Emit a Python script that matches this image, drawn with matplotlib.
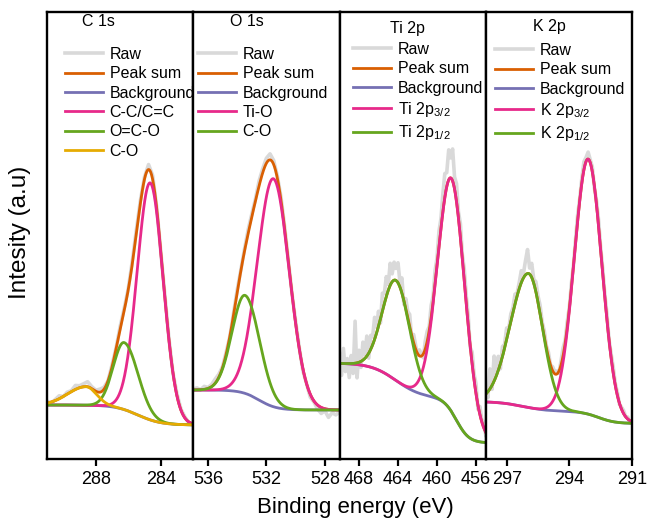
"""XPS high-resolution spectra (C 1s, O 1s, Ti 2p, K 2p) with peak fitting."""
import matplotlib
matplotlib.use("Agg")
import matplotlib.pyplot as plt
import numpy as np

plt.rcParams["font.family"] = ["Liberation Sans", "DejaVu Sans"]
plt.rcParams["mathtext.fontset"] = "custom"
plt.rcParams["mathtext.rm"] = "Liberation Sans"
plt.rcParams["mathtext.it"] = "Liberation Sans:italic"

COLORS = {
    "raw": "#d9d9d9",
    "sum": "#d95f02",
    "bg": "#7570b3",
    "p1": "#e7298a",
    "p2": "#66a61e",
    "p3": "#e6ab02",
}

# ---------------------------------------------------------------------------
# Data (intensity in arbitrary units)
# ---------------------------------------------------------------------------
# C 1s
c_xlim = (291, 282)
c_ticks = [288, 284]
c_names = ["C-C/C=C", "O=C-O", "C-O"]
c_centers = [284.65, 286.25, 288.6]
c_heights = [237, 67, 18.5]
c_sig_hi = [0.80, 0.67, 1.12]
c_sig_lo = [0.80, 0.86, 0.65]
c_bg_base = 35
c_bg_steps = [(285.4, 20, 0.7)]
c_raw_resid = [2, -1, 1, 3, 0, 2, 1, 4, 2, 3, 5, 2, 1, 3, 2, 0, 2, 1, 3, 2,
               1, 3, 4, 3, 2, 5, 4, 1, -1, 2, 1, 0, 2, 1, 1, -1, 0]

# O 1s
o_xlim = (537, 527)
o_ticks = [536, 532, 528]
o_names = ["Ti-O", "C-O"]
o_centers = [531.52, 533.46]
o_heights = [228, 98]
o_sig_hi = [1.09, 0.88]
o_sig_lo = [1.09, 1.00]
o_bg_base = 50
o_bg_steps = [(532.5, 20, 0.6)]
o_raw_resid = [1, 2, 0, 3, 1, 2, 4, 3, 1, 2, 0, 2, 3, 1, 2, 4, 3, 2, 5, 4,
               5, 6, 4, 2, 3, 2, 1, 0, 2, 1, -2, 0, -3, -1, -4, -6, -2, -8,
               -3, -5, -2]

# Ti 2p
ti_xlim = (470, 455)
ti_ticks = [468, 464, 460, 456]
ti_names = [r"Ti 2p$_{\mathregular{3/2}}$", r"Ti 2p$_{\mathregular{1/2}}$"]
ti_centers = [458.5, 464.2]
ti_heights = [233, 100]
ti_sig_hi = [1.40, 1.40]
ti_sig_lo = [1.40, 1.40]
ti_bg_base = 17
ti_bg_steps = [(458.0, 45, 0.65), (464.2, 35, 1.3)]
ti_raw_resid = [10, -12, 15, -8, 5, -14, 8, -10, 42, -15, 12, -6, 18, 4, 20,
                -5, 14, 8, 22, 6, 15, -4, 18, 10, 20, 6, 22, 8, 18, 12, 20, 5,
                15, -4, 10, 6, 12, -3, 8, 4, -2, 6, 2, -4, 8, 10, 4, 12, 6, 14,
                8, 16, 10, 18, 24, 14, 30, 20, 32, 12, 18, 6, 14, 4, 12, 8, 10,
                -2, 12, 6, 10, -4, 8, 2, 6, -3]

# K 2p
k_xlim = (298, 291)
k_ticks = [297, 294, 291]
k_names = [r"K 2p$_{\mathregular{3/2}}$", r"K 2p$_{\mathregular{1/2}}$"]
k_centers = [293.1, 295.95]
k_heights = [255, 134]
k_sig_hi = [0.66, 0.86]
k_sig_lo = [0.66, 0.67]
k_bg_base = 36.5
k_bg_steps = [(292.6, 12, 0.4), (296.2, 10, 0.6)]
k_raw_resid = [8, -6, 20, -4, 25, 2, 14, -5, 10, 4, 12, 2, 8, 5, 10, 3, 6, 12,
               4, 14, 24, 6, 14, 4, 10, 6, 8, 3, 6, 2, 5, 0, 4, 2, 3, -2, 4, 8,
               3, 6, 2, 5, 1, 4, 6, 2, 5, 8, 4, 7, 3, 5, -2, 4, 6, 2, 5, 3, 6,
               0, 4, 6, 2, 3, -1, 2, 3, 0, 2, -2, 1]

# title / legend anchor positions in figure pixels
PANELS = [
    dict(title="C 1s", xlim=c_xlim, ticks=c_ticks, names=c_names,
         centers=c_centers, heights=c_heights, sig_hi=c_sig_hi,
         sig_lo=c_sig_lo, bg_base=c_bg_base, bg_steps=c_bg_steps,
         resid=c_raw_resid, title_xy=(82, 22), leg_xy=(65, 47)),
    dict(title="O 1s", xlim=o_xlim, ticks=o_ticks, names=o_names,
         centers=o_centers, heights=o_heights, sig_hi=o_sig_hi,
         sig_lo=o_sig_lo, bg_base=o_bg_base, bg_steps=o_bg_steps,
         resid=o_raw_resid, title_xy=(230, 22), leg_xy=(198, 47)),
    dict(title="Ti 2p", xlim=ti_xlim, ticks=ti_ticks, names=ti_names,
         centers=ti_centers, heights=ti_heights, sig_hi=ti_sig_hi,
         sig_lo=ti_sig_lo, bg_base=ti_bg_base, bg_steps=ti_bg_steps,
         resid=ti_raw_resid, title_xy=(390, 28), leg_xy=(353, 42)),
    dict(title="K 2p", xlim=k_xlim, ticks=k_ticks, names=k_names,
         centers=k_centers, heights=k_heights, sig_hi=k_sig_hi,
         sig_lo=k_sig_lo, bg_base=k_bg_base, bg_steps=k_bg_steps,
         resid=k_raw_resid, title_xy=(533, 27), leg_xy=(495, 43)),
]

W, H = 647, 523
AX_LEFT, AX_RIGHT, AX_TOP, AX_BOTTOM = 47, 632, 11.5, 459
YLIM = (1, 448.5)


def peak(x, center, height, sig_hi, sig_lo):
    s = np.where(x >= center, sig_hi, sig_lo)
    return height * np.exp(-0.5 * ((x - center) / s) ** 2)


def background(x, base, steps):
    y = np.full_like(x, base, dtype=float)
    for c, h, w in steps:
        y += h / (1.0 + np.exp(-(x - c) / w))
    return y


def fit_parts(x, p):
    bg = background(x, p["bg_base"], p["bg_steps"])
    comps = [peak(x, c, h, sh, sl) for c, h, sh, sl in
             zip(p["centers"], p["heights"], p["sig_hi"], p["sig_lo"])]
    return bg, comps


def draw_panel(fig, ax, p):
    hi, lo = p["xlim"]
    x = np.linspace(lo, hi, 800)
    bg, comps = fit_parts(x, p)
    total = bg + np.sum(comps, axis=0)

    raw_x = np.linspace(hi, lo, len(p["resid"]))
    rbg, rcomps = fit_parts(raw_x, p)
    raw_y = rbg + np.sum(rcomps, axis=0) + np.array(p["resid"])

    ax.plot(raw_x, raw_y, color=COLORS["raw"], lw=2.6, label="Raw")
    ax.plot(x, total, color=COLORS["sum"], lw=2.0, label="Peak sum")
    ax.plot(x, bg, color=COLORS["bg"], lw=2.0, label="Background")
    for comp, name, key in zip(comps, p["names"], ["p1", "p2", "p3"]):
        ax.plot(x, bg + comp, color=COLORS[key], lw=2.0, label=name)

    ax.set_xlim(hi, lo)
    ax.set_ylim(*YLIM)
    ax.set_xticks(p["ticks"])
    ax.set_yticks([])
    ax.tick_params(axis="x", direction="out", length=5, width=1.6,
                   labelsize=13, pad=4)
    for sp in ax.spines.values():
        sp.set_linewidth(1.7)

    fig.text(p["title_xy"][0] / W, 1 - p["title_xy"][1] / H, p["title"],
             fontsize=11.5, ha="left", va="center")
    ax.legend(loc="upper left",
              bbox_to_anchor=(p["leg_xy"][0] / W, 1 - p["leg_xy"][1] / H),
              bbox_transform=fig.transFigure, frameon=False, fontsize=11.5,
              borderpad=0, borderaxespad=0, handlelength=2.4,
              handletextpad=0.4, labelspacing=0.27)


def main():
    fig = plt.figure(figsize=(W / 100, H / 100), dpi=100)
    pw = (AX_RIGHT - AX_LEFT) / len(PANELS)
    for i, p in enumerate(PANELS):
        left = AX_LEFT + i * pw
        ax = fig.add_axes([left / W, 1 - AX_BOTTOM / H, pw / W,
                           (AX_BOTTOM - AX_TOP) / H])
        draw_panel(fig, ax, p)
    fig.text(355 / W, 1 - 507 / H, "Binding energy (eV)", fontsize=16,
             ha="center", va="center")
    fig.text(20 / W, 1 - 232 / H, "Intesity (a.u)", fontsize=17.5,
             ha="center", va="center", rotation=90)
    fig.savefig("out.png", dpi=100)
    plt.close(fig)


if __name__ == "__main__":
    main()
